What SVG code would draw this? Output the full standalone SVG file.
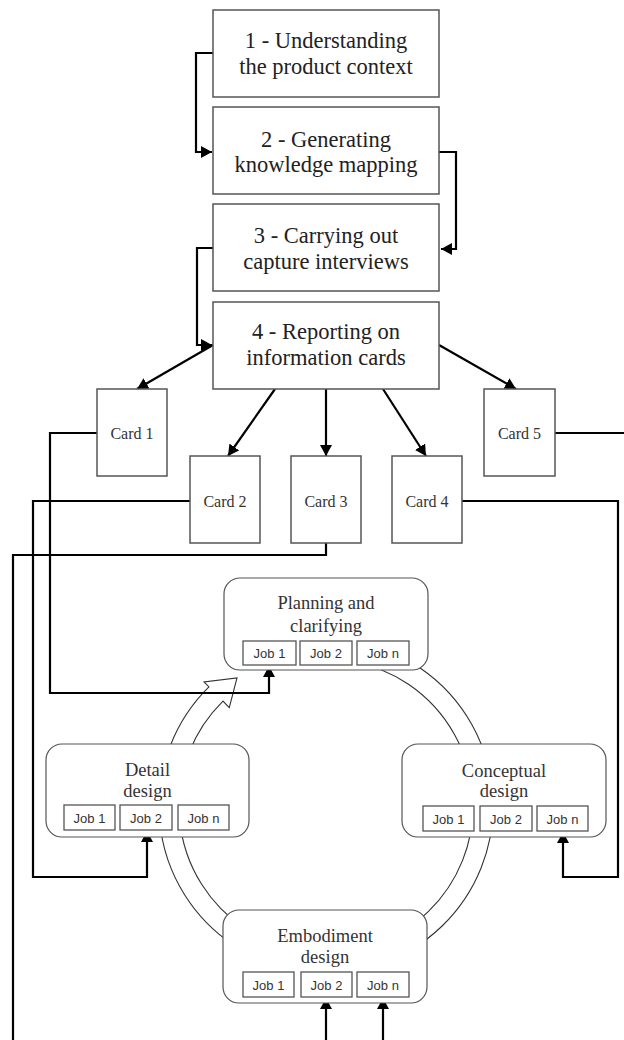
<svg xmlns="http://www.w3.org/2000/svg" width="624" height="1040" viewBox="0 0 624 1040">
<style>
.step{fill:#fff;stroke:#555;stroke-width:1.5}
.card{fill:#fff;stroke:#555;stroke-width:1.5}
.phase{fill:#fff;stroke:#555;stroke-width:1.2}
.job{fill:#fff;stroke:#555;stroke-width:1.3}
.t1{font-family:"Liberation Serif","Times New Roman",serif;font-size:22.5px;fill:#222;text-anchor:middle}
.tc{font-family:"Liberation Serif","Times New Roman",serif;font-size:16px;fill:#333;text-anchor:middle}
.tp{font-family:"Liberation Serif","Times New Roman",serif;font-size:18.5px;fill:#333;text-anchor:middle}
.tj{font-family:"Liberation Sans",Arial,sans-serif;font-size:13px;fill:#333;text-anchor:middle}
.conn{fill:none;stroke:#000;stroke-width:2.2}
.ring{fill:#fff;stroke:#333;stroke-width:1.1}
</style>
<defs>
<marker id="ah" markerUnits="userSpaceOnUse" markerWidth="12" markerHeight="12" refX="11" refY="6" orient="auto">
<path d="M0,0 L11,6 L0,12 z" fill="#000"/>
</marker>
</defs>

<g id="cycle-arrow">
<path class="ring" d="M355,641.5 A167,167 0 1 1 208.95,686.89 L204.04,681.89 L237,677.9 L229.27,707.57 L222.97,701.15 A147,147 0 1 0 351.5,661.2 Z"/>
</g>

<g id="connectors">
<path class="conn" d="M213,53 H196 V152 H212" marker-end="url(#ah)"/>
<path class="conn" d="M439,152 H456 V249 H441" marker-end="url(#ah)"/>
<path class="conn" d="M213,248 H197 V345 H212" marker-end="url(#ah)"/>
<path class="conn" d="M213,345 L137,389" marker-end="url(#ah)"/>
<path class="conn" d="M275,389 L228,456" marker-end="url(#ah)"/>
<path class="conn" d="M326,389 V456" marker-end="url(#ah)"/>
<path class="conn" d="M383,389 L426,456" marker-end="url(#ah)"/>
<path class="conn" d="M439,345 L516,389" marker-end="url(#ah)"/>
<path class="conn" d="M555,433 H624"/>
<path class="conn" d="M462,501 H618 V877 H563 V832" marker-end="url(#ah)"/>
<path class="conn" d="M326,543 V555 H13 V1040"/>
<path class="conn" d="M190,501 H33 V877 H147 V831" marker-end="url(#ah)"/>
<path class="conn" d="M97,433 H50 V693 H269 V666" marker-end="url(#ah)"/>
<path class="conn" d="M326,1040 V998" marker-end="url(#ah)"/>
<path class="conn" d="M383,1040 V998" marker-end="url(#ah)"/>
</g>

<g id="step1"><rect class="step" x="213" y="10" width="226" height="87"/>
<text class="t1" x="326" y="48">1 - Understanding</text><text class="t1" x="326" y="74">the product context</text></g>
<g id="step2"><rect class="step" x="213" y="107" width="226" height="87"/>
<text class="t1" x="326" y="147">2 - Generating</text><text class="t1" x="326" y="172">knowledge mapping</text></g>
<g id="step3"><rect class="step" x="213" y="204" width="226" height="87"/>
<text class="t1" x="326" y="243">3 - Carrying out</text><text class="t1" x="326" y="269">capture interviews</text></g>
<g id="step4"><rect class="step" x="213" y="302" width="226" height="87"/>
<text class="t1" x="326" y="339">4 - Reporting on</text><text class="t1" x="326" y="365">information cards</text></g>

<g id="card1"><rect class="card" x="97" y="389" width="70" height="87"/><text class="tc" x="132" y="439">Card 1</text></g>
<g id="card2"><rect class="card" x="190" y="456" width="70" height="87"/><text class="tc" x="225" y="507">Card 2</text></g>
<g id="card3"><rect class="card" x="291" y="456" width="70" height="87"/><text class="tc" x="326" y="507">Card 3</text></g>
<g id="card4"><rect class="card" x="392" y="456" width="70" height="87"/><text class="tc" x="427" y="507">Card 4</text></g>
<g id="card5"><rect class="card" x="484" y="389" width="71" height="87"/><text class="tc" x="519.5" y="439">Card 5</text></g>

<g id="planning">
<rect class="phase" x="224" y="578" width="204" height="92" rx="16"/>
<text class="tp" x="326" y="609">Planning and</text><text class="tp" x="326" y="632">clarifying</text>
<rect class="job" x="243" y="641" width="53" height="24"/><text class="tj" x="269.5" y="658">Job 1</text>
<rect class="job" x="300" y="641" width="52" height="24"/><text class="tj" x="326" y="658">Job 2</text>
<rect class="job" x="357" y="641" width="52" height="24"/><text class="tj" x="383" y="658">Job n</text>
</g>
<g id="detail">
<rect class="phase" x="46" y="744" width="203" height="93" rx="16"/>
<text class="tp" x="147.5" y="776">Detail</text><text class="tp" x="147.5" y="797">design</text>
<rect class="job" x="64" y="805" width="51" height="25"/><text class="tj" x="89.5" y="823">Job 1</text>
<rect class="job" x="120" y="805" width="52" height="25"/><text class="tj" x="146" y="823">Job 2</text>
<rect class="job" x="178" y="805" width="51" height="25"/><text class="tj" x="203.5" y="823">Job n</text>
</g>
<g id="conceptual">
<rect class="phase" x="402" y="744" width="204" height="93" rx="16"/>
<text class="tp" x="504" y="777">Conceptual</text><text class="tp" x="504" y="797">design</text>
<rect class="job" x="423" y="806" width="51" height="25"/><text class="tj" x="448.5" y="824">Job 1</text>
<rect class="job" x="480" y="806" width="52" height="25"/><text class="tj" x="506" y="824">Job 2</text>
<rect class="job" x="537" y="806" width="51" height="25"/><text class="tj" x="562.5" y="824">Job n</text>
</g>
<g id="embodiment">
<rect class="phase" x="223" y="910" width="204" height="93" rx="16"/>
<text class="tp" x="325" y="942">Embodiment</text><text class="tp" x="325" y="963">design</text>
<rect class="job" x="243" y="972" width="51" height="25"/><text class="tj" x="268.5" y="990">Job 1</text>
<rect class="job" x="301" y="972" width="51" height="25"/><text class="tj" x="326.5" y="990">Job 2</text>
<rect class="job" x="357" y="972" width="52" height="25"/><text class="tj" x="383" y="990">Job n</text>
</g>
</svg>
